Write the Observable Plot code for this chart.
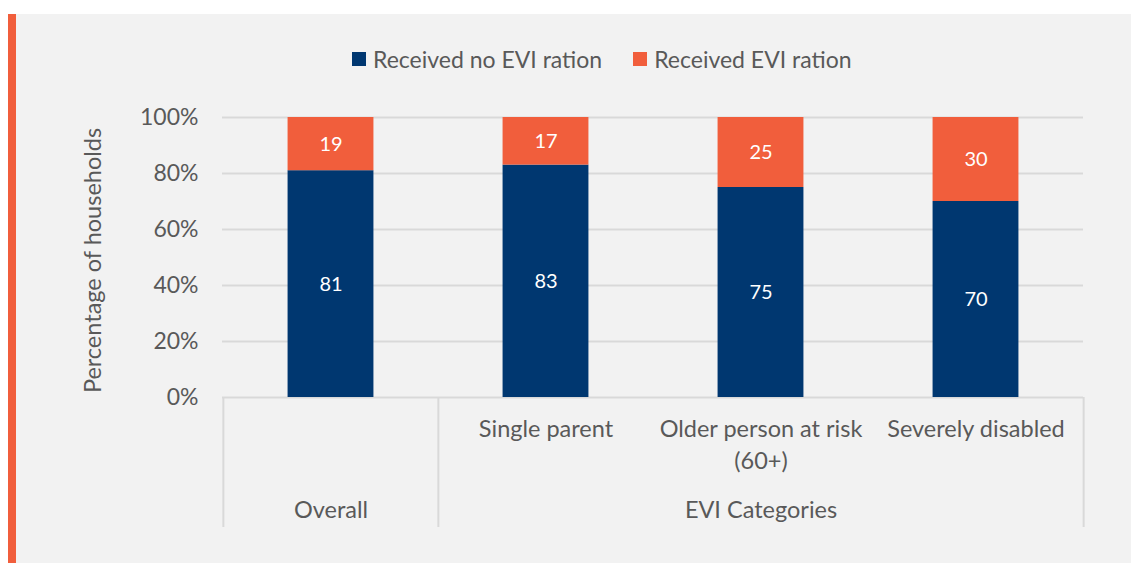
<!DOCTYPE html>
<html>
<head>
<meta charset="utf-8">
<script src="https://cdn.jsdelivr.net/npm/d3@7"></script>
<script src="https://cdn.jsdelivr.net/npm/@observablehq/plot@0.6"></script>
<style>
  html, body { margin: 0; padding: 0; background: #ffffff; }
  body { width: 1131px; height: 563px; position: relative; overflow: hidden; font-family: Lato, "Noto Sans", sans-serif; }
  #panel { position: absolute; left: 8px; top: 14px; width: 1115px; height: 549px; background: #f2f2f2; border-left: 8px solid #f15e3c; }
  #legend { position: absolute; left: 336px; top: 32px; height: 26px; display: flex; align-items: center; font-size: 23px; color: #595959; white-space: nowrap; }
  #legend .item { display: flex; align-items: center; }
  #legend .sw { width: 14px; height: 14px; margin-right: 7px; }
  #chart { position: absolute; left: 0; top: 66px; }
</style>
</head>
<body>
<div id="panel">
  <div id="legend"></div>
  <div id="chart"></div>
</div>
<script>
// ---- data ----
const categories = ["Overall", "Single parent", "Older person at risk (60+)", "Severely disabled"];
const axisLabels = ["", "Single parent", "Older person at risk\n(60+)", "Severely disabled"];
const seriesNames = ["Received no EVI ration", "Received EVI ration"];
const noRation = [81, 83, 75, 70];
const ration = [19, 17, 25, 30];
const groups = [
  { name: "Overall", cats: ["Overall"] },
  { name: "EVI Categories", cats: ["Single parent", "Older person at risk (60+)", "Severely disabled"] }
];
const yTicks = [0, 20, 40, 60, 80, 100];
const colors = ["#003770", "#f15e3c"];

// ---- table ----
const rows = [];
categories.forEach((c, i) => {
  rows.push({ cat: c, series: seriesNames[0], value: noRation[i] });
  rows.push({ cat: c, series: seriesNames[1], value: ration[i] });
});
const labelRows = categories.map((c, i) => ({ cat: c, label: axisLabels[i] }));
const groupRows = groups.map(g => ({ name: g.name, mid: g.cats[Math.floor(g.cats.length / 2)] }));
const boundaryRows = [
  ...groups.map(g => ({ cat: g.cats[0], side: -1 })),
  { cat: groups[groups.length - 1].cats[groups[groups.length - 1].cats.length - 1], side: 1 }
];

// ---- legend ----
const legend = document.getElementById("legend");
seriesNames.forEach((s, i) => {
  const item = document.createElement("div");
  item.className = "item";
  item.style.marginRight = i === 0 ? "31px" : "0";
  const sw = document.createElement("span");
  sw.className = "sw";
  sw.style.background = colors[i];
  const t = document.createElement("span");
  t.textContent = s;
  item.appendChild(sw);
  item.appendChild(t);
  legend.appendChild(item);
});

// ---- chart ----
const W = 1115, H = 483, ML = 206, MR = 48, MT = 37, MB = 166;
const step = (W - ML - MR) / categories.length;
const inset = step * 0.3;
const FS = 23.5;

const chart = Plot.plot({
  width: W,
  height: H,
  marginLeft: ML,
  marginRight: MR,
  marginTop: MT,
  marginBottom: MB,
  style: { background: "transparent", fontFamily: "Lato, 'Noto Sans', sans-serif", fontSize: "23px", color: "#595959" },
  x: { domain: categories, padding: 0, axis: null },
  y: { domain: [0, 100], ticks: yTicks, tickFormat: d => d + "%", tickSize: 0, tickPadding: 24, label: null },
  color: { domain: seriesNames, range: colors },
  marks: [
    Plot.ruleY(yTicks, { stroke: "#d9d9d9", strokeWidth: 2 }),
    Plot.barY(rows, { x: "cat", y: "value", fill: "series", insetLeft: inset, insetRight: inset }),
    Plot.text(rows, Plot.stackY({ x: "cat", y: "value", z: "series", text: d => String(d.value), fill: "white", fontSize: 20 })),
    Plot.text(labelRows, { x: "cat", text: "label", frameAnchor: "bottom", lineAnchor: "top", lineHeight: 1.36, dy: 16.6, fill: "#595959", fontSize: FS }),
    Plot.text(groupRows, { x: "mid", text: "name", frameAnchor: "bottom", dy: 120, fill: "#595959", fontSize: FS }),
    Plot.ruleX(boundaryRows.filter(d => d.side < 0), { x: "cat", dx: -step / 2, stroke: "#d9d9d9", strokeWidth: 2, insetTop: H - MT - MB, insetBottom: -130 }),
    Plot.ruleX(boundaryRows.filter(d => d.side > 0), { x: "cat", dx: step / 2, stroke: "#d9d9d9", strokeWidth: 2, insetTop: H - MT - MB, insetBottom: -130 }),
    Plot.text(["Percentage of households"], { text: d => d, frameAnchor: "left", textAnchor: "middle", rotate: -90, dx: -129, dy: 3, fill: "#595959", fontSize: FS })
  ]
});
document.getElementById("chart").appendChild(chart);
</script>
</body>
</html>
